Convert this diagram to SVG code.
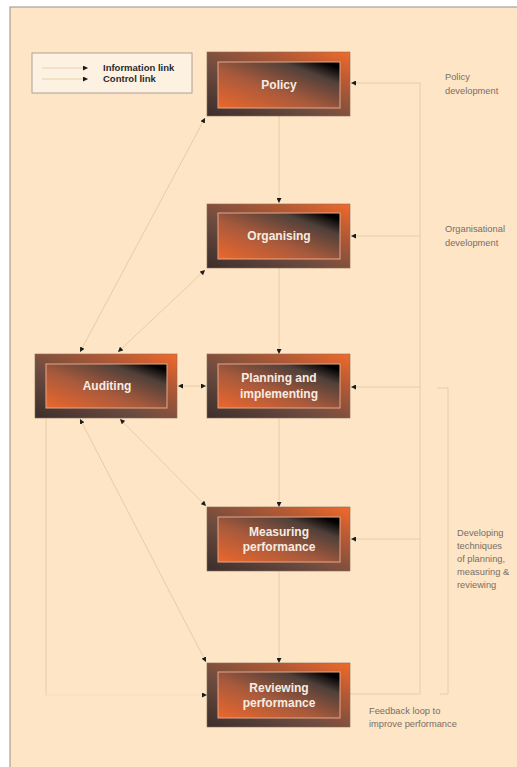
<svg xmlns="http://www.w3.org/2000/svg" width="517" height="767" viewBox="0 0 517 767">
<defs>
<linearGradient id="gOut" x1="0" y1="1" x2="1" y2="0">
<stop offset="0" stop-color="#3a2e2b"/>
<stop offset="0.4" stop-color="#6e4c40"/>
<stop offset="0.75" stop-color="#b65a34"/>
<stop offset="1" stop-color="#f26a2a"/>
</linearGradient>
<linearGradient id="gIn" x1="0" y1="1" x2="1" y2="0">
<stop offset="0" stop-color="#ec672c"/>
<stop offset="0.42" stop-color="#a85a3c"/>
<stop offset="0.76" stop-color="#50403a"/>
<stop offset="0.93" stop-color="#000000"/>
<stop offset="1" stop-color="#000000"/>
</linearGradient>
<marker id="ah" viewBox="0 0 10 10" refX="10" refY="5" markerWidth="5" markerHeight="5" orient="auto-start-reverse" markerUnits="userSpaceOnUse">
<path d="M0,0 L10,5 L0,10 z" fill="#1a1a1a"/>
</marker>
</defs>
<style>
.outer{fill:url(#gOut);stroke:#8a6a58;stroke-width:0.6}
.inner{fill:url(#gIn);stroke:#e8a688;stroke-width:1}
.lbl{font-family:"Liberation Sans",Arial,sans-serif;font-weight:bold;font-size:12px;fill:#f7ece2;text-anchor:middle}
.side{font-family:"Liberation Sans",Arial,sans-serif;font-size:9.3px;fill:#7a6e66}
.leg{font-family:"Liberation Sans",Arial,sans-serif;font-weight:bold;font-size:9.5px;fill:#2a2a2a}
.ln{fill:none;stroke:#e3c9a6;stroke-width:0.9}
.faint{fill:none;stroke:#f2dcbd;stroke-width:0.6}
.arr{marker-end:url(#ah)}
.arr2{marker-start:url(#ah);marker-end:url(#ah)}
</style>
<rect x="0" y="0" width="517" height="767" fill="#ffffff"/>
<rect x="10" y="7" width="520" height="770" fill="#fde5c5" stroke="#9a9088" stroke-width="1"/>

<g id="legend">
<rect x="32" y="53" width="160" height="40" fill="#fdf2e2" stroke="#9a9088" stroke-width="0.8"/>
<line x1="42" y1="68" x2="88" y2="68" class="ln arr"/>
<line x1="42" y1="79" x2="88" y2="79" class="ln arr"/>
<text x="103" y="71" class="leg">Information link</text>
<text x="103" y="82" class="leg">Control link</text>
</g>

<g id="connectors">
<line x1="279" y1="116" x2="279" y2="203" class="ln arr"/>
<line x1="279" y1="268" x2="279" y2="354" class="ln arr"/>
<line x1="279" y1="418" x2="279" y2="507" class="ln arr"/>
<line x1="279" y1="571" x2="279" y2="663" class="ln arr"/>
<line x1="178" y1="386" x2="206" y2="386" class="ln arr2"/>
<line x1="80" y1="352" x2="205" y2="118" class="ln arr2"/>
<line x1="118" y1="352" x2="205" y2="270" class="ln arr2"/>
<line x1="80" y1="419" x2="206" y2="662" class="ln arr2"/>
<line x1="120" y1="419" x2="206" y2="506" class="ln arr2"/>
<path d="M46,418 L46,695" class="ln"/>
<path d="M46,695 L207,695" class="faint arr"/>
<path d="M420,694 L420,83 L351,83" class="ln arr"/>
<line x1="420" y1="236" x2="351" y2="236" class="ln arr"/>
<line x1="420" y1="387" x2="351" y2="387" class="ln arr"/>
<line x1="420" y1="539" x2="351" y2="539" class="ln arr"/>
<line x1="420" y1="694" x2="350" y2="694" class="ln"/>
<path d="M437,388 L448,388 L448,694 L440,694" class="ln"/>
</g>

<g id="policy">
<rect x="207" y="52" width="143" height="64" class="outer"/>
<rect x="218" y="62" width="122" height="46" class="inner"/>
<text x="279" y="89" class="lbl">Policy</text>
</g>
<g id="organising">
<rect x="207" y="204" width="143" height="64" class="outer"/>
<rect x="218" y="213" width="122" height="46" class="inner"/>
<text x="279" y="240" class="lbl">Organising</text>
</g>
<g id="planning">
<rect x="207" y="354" width="143" height="64" class="outer"/>
<rect x="218" y="364" width="122" height="44" class="inner"/>
<text x="279" y="382" class="lbl">Planning and</text>
<text x="279" y="398" class="lbl">implementing</text>
</g>
<g id="auditing">
<rect x="35" y="354" width="142" height="64" class="outer"/>
<rect x="46" y="364" width="121" height="44" class="inner"/>
<text x="107" y="390" class="lbl">Auditing</text>
</g>
<g id="measuring">
<rect x="207" y="507" width="143" height="64" class="outer"/>
<rect x="218" y="517" width="122" height="45" class="inner"/>
<text x="279" y="536" class="lbl">Measuring</text>
<text x="279" y="551" class="lbl">performance</text>
</g>
<g id="reviewing">
<rect x="207" y="663" width="143" height="64" class="outer"/>
<rect x="218" y="672" width="122" height="46" class="inner"/>
<text x="279" y="692" class="lbl">Reviewing</text>
<text x="279" y="707" class="lbl">performance</text>
</g>

<g id="side-labels">
<text x="445" y="80" class="side">Policy</text>
<text x="445" y="94" class="side">development</text>
<text x="445" y="232" class="side">Organisational</text>
<text x="445" y="246" class="side">development</text>
<text x="457" y="536" class="side">Developing</text>
<text x="457" y="549" class="side">techniques</text>
<text x="457" y="562" class="side">of planning,</text>
<text x="457" y="575" class="side">measuring &amp;</text>
<text x="457" y="588" class="side">reviewing</text>
<text x="369" y="714" class="side">Feedback loop to</text>
<text x="369" y="727" class="side">improve performance</text>
</g>
</svg>
